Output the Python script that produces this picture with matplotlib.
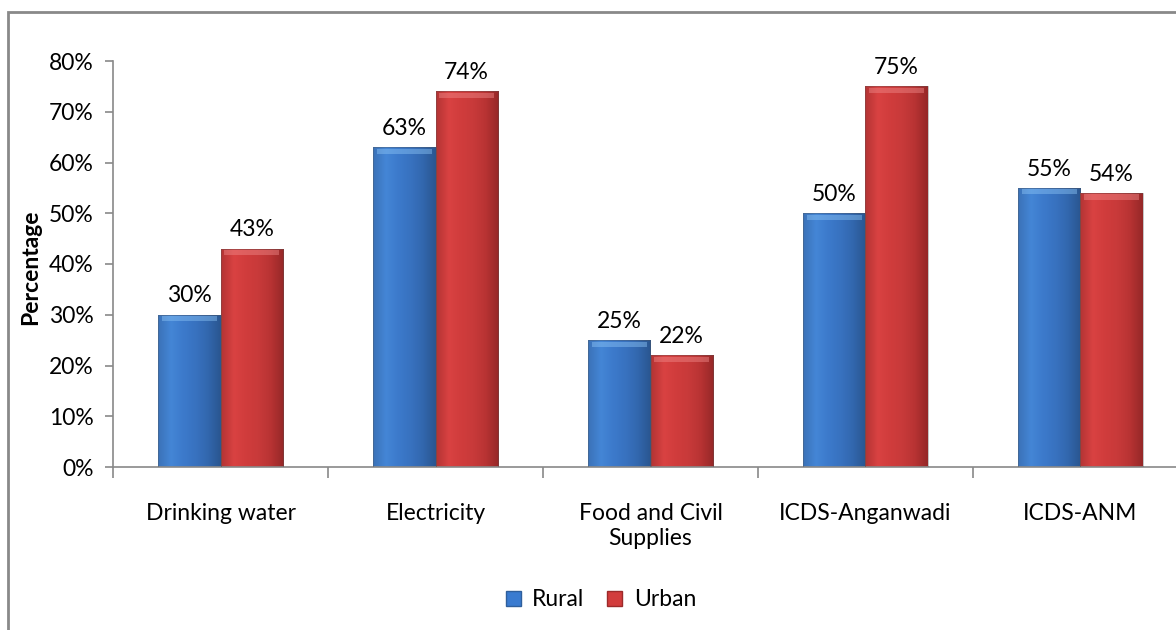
import numpy as np
import matplotlib
matplotlib.use("Agg")
import matplotlib.pyplot as plt
from matplotlib.patches import Rectangle
from matplotlib.colors import LinearSegmentedColormap

plt.rcParams['font.family'] = ['Lato', 'DejaVu Sans']

# Share of households reporting each service
categories = ['Drinking water', 'Electricity', 'Food and Civil\nSupplies',
              'ICDS-Anganwadi', 'ICDS-ANM']
rural = [30, 63, 25, 50, 55]
urban = [43, 74, 22, 75, 54]
series_names = ['Rural', 'Urban']

fig = plt.figure(figsize=(11.76, 6.3), dpi=100)
ax = fig.add_axes([113 / 1176, 1 - 467 / 630, 1075 / 1176, 406 / 630])

# outer chart frame
fig.patches.append(Rectangle((8 / 1176, -0.05), 1.1, 1 - 12 / 630 + 0.05,
                             transform=fig.transFigure, fill=False,
                             edgecolor='#898989', linewidth=2, zorder=0))

x = np.arange(len(categories))
w = 0.29

blue_cmap = LinearSegmentedColormap.from_list(
    'b', ['#3b72b8', '#4486d6', '#3c7acb', '#3872c0', '#3267ae', '#2a5690'])
red_cmap = LinearSegmentedColormap.from_list(
    'r', ['#b43434', '#d94242', '#d03c3c', '#c83a3a', '#b83333', '#962828'])
grad = np.linspace(0, 1, 64).reshape(1, -1)


def shaded_bars(xs, vals, cmap, top_col):
    bars = ax.bar(xs, vals, w, color='none', edgecolor='none', zorder=2)
    for b in bars:
        x0, y0 = b.get_x(), b.get_y()
        bw, bh = b.get_width(), b.get_height()
        im = ax.imshow(grad, cmap=cmap, aspect='auto', zorder=2,
                       extent=[x0, x0 + bw, y0, y0 + bh])
        im.set_clip_path(b)
        # lighter bevel along the top edge
        ax.add_patch(Rectangle((x0 + bw * 0.06, y0 + bh - 1.3), bw * 0.88, 1.0,
                               color=top_col, alpha=0.45, lw=0, zorder=3))
        ax.add_patch(Rectangle((x0, y0), bw, bh, fill=False,
                               edgecolor='#555555', lw=0.6, alpha=0.4, zorder=3))
    return bars


shaded_bars(x - w / 2, rural, blue_cmap, '#8cc4f5')
shaded_bars(x + w / 2, urban, red_cmap, '#f08a8a')

for xs, vals in ((x - w / 2, rural), (x + w / 2, urban)):
    for xi, v in zip(xs, vals):
        ax.annotate(f'{v}%', (xi, v), xytext=(0, 6), textcoords='offset points',
                    ha='center', va='bottom', fontsize=16.5, color='black')

ax.set_xlim(-0.5, len(categories) - 0.5)
ax.set_ylim(0, 80)
ax.set_yticks(np.arange(0, 81, 10))
ax.set_yticklabels([f'{t}%' for t in range(0, 81, 10)], fontsize=16.5)

ax.set_xticks(np.arange(len(categories) + 1) - 0.5)
ax.set_xticklabels([])
ax.set_xticks(x, minor=True)
ax.set_xticklabels(categories, minor=True, fontsize=16.5, linespacing=1.2, va='top')
ax.tick_params(axis='x', which='major', length=8, color='#898989', width=1.2)
ax.tick_params(axis='x', which='minor', length=0, pad=26)
ax.tick_params(axis='y', length=6, color='#898989', width=1.2, pad=8)

for s in ('top', 'right'):
    ax.spines[s].set_visible(False)
for s in ('left', 'bottom'):
    ax.spines[s].set_color('#898989')
    ax.spines[s].set_linewidth(1.2)

fig.text(31 / 1176, 1 - 267 / 630, 'Percentage', rotation=90, fontsize=16.5,
         fontweight='bold', ha='center', va='center')

handles = [Rectangle((0, 0), 1, 1, facecolor='#3a7bd0', edgecolor='#2f5f9c'),
           Rectangle((0, 0), 1, 1, facecolor='#d23c3c', edgecolor='#9c2a2a')]
fig.legend(handles, series_names, loc='center', bbox_to_anchor=(601 / 1176, 1 - 600 / 630),
           ncol=2, frameon=False, fontsize=16.5, handlelength=0.65, handleheight=0.65,
           handletextpad=0.5, columnspacing=1.0)

fig.savefig('out.png', dpi=100)
